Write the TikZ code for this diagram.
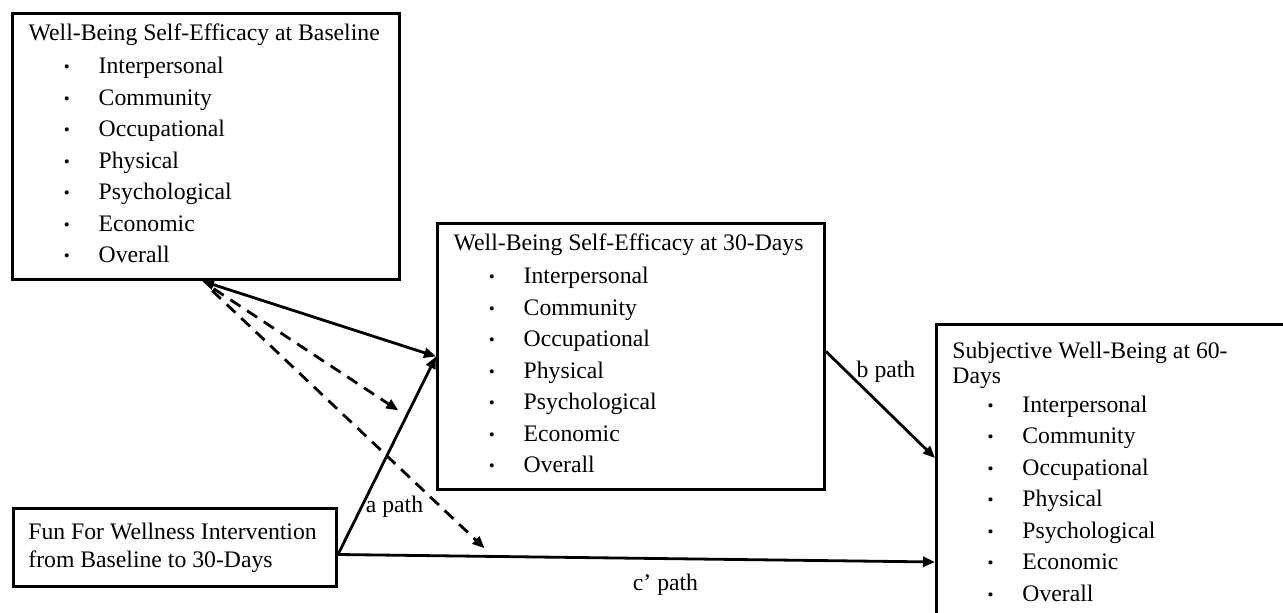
\documentclass[tikz,border=0pt]{standalone}
\usepackage{fontspec}
\setmainfont{Liberation Serif}
\usetikzlibrary{arrows.meta}

% one bulleted line of a box
\newcommand{\wbitem}[1]{\hspace*{17.6pt}\makebox[17.4pt][l]{\raisebox{0.6pt}{\fontsize{8.5}{8.5}\selectfont\textbullet}}#1}

\begin{document}
\begin{tikzpicture}[x=0.5pt,y=-0.5pt,
    wbbox/.style={draw,line width=1.5pt,anchor=north west,inner sep=0pt},
    wbtext/.style={anchor=north west,inner sep=0pt,align=left,font=\fontsize{11.85}{15.75}\selectfont},
    pathlabel/.style={inner sep=0pt,font=\fontsize{11.85}{14}\selectfont},
    patharrow/.style={line width=1.4pt,-{Triangle[length=6pt,width=5pt]}},
    bothways/.style={line width=1.4pt,{Triangle[length=6pt,width=5pt]}-{Triangle[length=6pt,width=5pt]}},
    modarrow/.style={patharrow,dash pattern=on 6pt off 4pt,shorten <=7pt}]
    \clip (0,0) rectangle (1283,613);

    % boxes
    \node[wbbox,minimum width=193.5pt,minimum height=133pt] (base) at (11,12) {};
    \node[wbbox,minimum width=193.5pt,minimum height=133pt] (mid) at (436,222) {};
    \node[wbbox,minimum width=250pt,minimum height=200pt] (outc) at (935,323) {};
    \node[wbbox,minimum width=161.5pt,minimum height=39pt] (fun) at (12,507) {};

    % box texts
    \node[wbtext] (basetxt) at ([shift={(17.3,11.4)}]base.north west)
        {Well-Being Self-Efficacy at Baseline\\[0.9pt]
         \wbitem{Interpersonal}\\ \wbitem{Community}\\ \wbitem{Occupational}\\
         \wbitem{Physical}\\ \wbitem{Psychological}\\ \wbitem{Economic}\\ \wbitem{Overall}};
    \node[wbtext] (midtxt) at ([shift={(17.3,11.4)}]mid.north west)
        {Well-Being Self-Efficacy at 30-Days\\[0.9pt]
         \wbitem{Interpersonal}\\ \wbitem{Community}\\ \wbitem{Occupational}\\
         \wbitem{Physical}\\ \wbitem{Psychological}\\ \wbitem{Economic}\\ \wbitem{Overall}};
    \node[wbtext] (outctxt) at ([shift={(17,18.8)}]outc.north west)
        {Subjective Well-Being at 60-\\[-3.2pt]Days\\[-1.5pt]
         \wbitem{Interpersonal}\\ \wbitem{Community}\\ \wbitem{Occupational}\\
         \wbitem{Physical}\\ \wbitem{Psychological}\\ \wbitem{Economic}\\ \wbitem{Overall}};
    \node[wbtext,font=\fontsize{11.85}{14}\selectfont] (funtxt) at ([shift={(16,16)}]fun.north west)
        {Fun For Wellness Intervention\\from Baseline to 30-Days};

    % paths
    \coordinate (funout) at ([yshift=-3.5pt]fun.east);
    \draw[bothways] ([xshift=-2pt]base.south) -- (mid.west);
    \draw[patharrow] (funout) -- coordinate[pos=0.7] (apathpt) (mid.west);
    \draw[patharrow] ([yshift=2.5pt]mid.east) -- ([yshift=-67.5pt]outc.north west);
    \draw[patharrow] (funout) -- coordinate[pos=0.26] (cpathpt) ([yshift=-119.5pt]outc.north west);
    \draw[modarrow,shorten >=5pt] ([xshift=-2pt]base.south) -- (apathpt);
    \draw[modarrow,shorten >=6pt] ([xshift=-2pt]base.south) -- (cpathpt);

    % path labels
    \node[pathlabel] (alabel) at (394.5,507) {a path};
    \node[pathlabel] (blabel) at (886,372) {b path};
    \node[pathlabel] (clabel) at (665.5,585) {c’ path};
\end{tikzpicture}
\end{document}
